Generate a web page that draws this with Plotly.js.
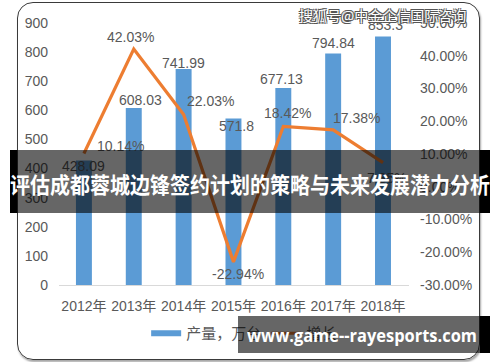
<!DOCTYPE html>
<html><head><meta charset="utf-8">
<script src="https://cdn.plot.ly/plotly-3.0.1.min.js"></script>
<style>
html,body{margin:0;padding:0;background:#fff;}
#wrap{position:relative;width:500px;height:362px;overflow:hidden;}
#chart{position:absolute;left:0;top:0;width:500px;height:362px;}
.ov{position:absolute;pointer-events:none;box-sizing:border-box;}
.txt{white-space:nowrap;color:#fff;font-weight:bold;transform-origin:0 0;}
</style></head><body>
<div id="wrap">
<div id="chart"></div>
<div class="ov" style="left:17px;top:2px;width:463px;height:358px;border:1.5px solid #3a3a3a;border-radius:16px;box-shadow:1px 2px 2px rgba(0,0,0,0.35);"></div>
<div class="ov" style="left:10px;top:150px;width:7px;height:63px;background:#000"></div>
<div class="ov" style="left:17px;top:150px;width:463px;height:63px;background:rgba(0,0,0,0.6)"></div>
<div class="ov" style="left:480px;top:150px;width:10px;height:63px;background:#000"></div>
<div class="ov txt" id="t1" data-w="480" style="left:10px;top:172px;font-family:'Noto Sans CJK SC';font-size:22px;line-height:22px;">评估成都蓉城边锋签约计划的策略与未来发展潜力分析</div>
<div class="ov" style="left:238px;top:316px;width:242px;height:37px;background:rgba(0,0,0,0.6)"></div>
<div class="ov" style="left:480px;top:316px;width:10px;height:37px;background:#000"></div>
<div class="ov txt" id="t2" data-w="230" style="left:247px;top:323px;font-family:'Open Sans';font-size:18px;line-height:24px;">www.game--rayesports.com</div>
</div>
<script>
// ---- data ----
const years = ['2012年','2013年','2014年','2015年','2016年','2017年','2018年'];
const output = [428.09, 608.03, 741.99, 571.8, 677.13, 794.84, 853.3];
const growth = [10.14, 42.03, 22.03, -22.94, 18.42, 17.38, 7.35];
const outputName = '产量，万台';
const growthName = '增长';
const leftTicks = [0, 100, 200, 300, 400, 500, 600, 700, 800, 900];
const rightTicks = [-30, -20, -10, 0, 10, 20, 30, 40, 50];
const watermark = '搜狐号@中金企信国际咨询';

// ---- style ----
const BLUE = '#5b9bd5', ORANGE = '#ed7d31', GRAY = '#595959';
const FONT = 'Liberation Sans, Noto Sans CJK SC, sans-serif';
const barLabelShift = [[0,-6],[7,8],[0,6],[3,-7],[-2,9],[0,11],[2,12]];
const growthLabelShift = [[37,8],[-3,12],[27,14],[5,-12],[4,13],[23,12],[4,-15]];

const traces = [
  {type:'bar', x: years, y: output, marker:{color: BLUE}, width:0.32, showlegend:false, hoverinfo:'none'},
  {type:'scatter', mode:'lines', x: years, y: growth, yaxis:'y2', line:{color: ORANGE, width:3.2}, showlegend:false, hoverinfo:'none'},
  {type:'scatter', mode:'lines', x:[null], y:[null], name: outputName, line:{color: BLUE, width:6}},
  {type:'scatter', mode:'lines', x:[null], y:[null], name: growthName, yaxis:'y2', line:{color: ORANGE, width:3}}
];

const ann = [];
years.forEach((yr, i) => {
  ann.push({x: yr, y: output[i], xref:'x', yref:'y', text: String(output[i]), showarrow:false,
    xshift: barLabelShift[i][0], yshift: barLabelShift[i][1], font:{size:14, color:GRAY, family:FONT}});
  ann.push({x: yr, y: growth[i], xref:'x', yref:'y2', text: growth[i].toFixed(2) + '%', showarrow:false,
    xshift: growthLabelShift[i][0], yshift: growthLabelShift[i][1], font:{size:14, color:GRAY, family:FONT}});
});
ann.push({x:0.923, y:1.03, xref:'paper', yref:'paper', xanchor:'center', yanchor:'middle', text: watermark, showarrow:false,
  font:{size:14, color:'#ffffff', family:'Noto Sans CJK SC', shadow:'-1px -1px 0 #555, 1px -1px 0 #555, -1px 1px 0 #555, 1px 1px 0 #555'}});

const layout = {
  width:500, height:362,
  margin:{l:59, r:91, t:23, b:74, pad:0},
  paper_bgcolor:'#ffffff', plot_bgcolor:'#ffffff',
  font:{family: FONT, size:14, color: GRAY},
  showlegend:true,
  legend:{orientation:'h', x:0.249, xanchor:'left', y:-0.185, yanchor:'middle', font:{size:15, color:GRAY}, bgcolor:'rgba(0,0,0,0)'},
  xaxis:{type:'category', showline:true, linecolor:'#d9d9d9', linewidth:1, ticks:'', showgrid:false,
    tickfont:{size:14, color:GRAY}, ticklabelstandoff:8, automargin:false},
  yaxis:{range:[0, 900], tickvals: leftTicks, showgrid:false, zeroline:false, showline:false, ticks:'',
    tickfont:{size:14, color:GRAY}, ticklabelstandoff:10, automargin:false},
  yaxis2:{range:[-30, 50], tickvals: rightTicks, ticktext: rightTicks.map(v => v.toFixed(2) + '%'), overlaying:'y', side:'right',
    showgrid:false, zeroline:false, showline:false, ticks:'', tickfont:{size:14, color:GRAY}, ticklabelstandoff:10, automargin:false},
  annotations: ann
};

Plotly.newPlot('chart', traces, layout, {displayModeBar:false, staticPlot:true}).then(() => {
  document.querySelectorAll('.txt').forEach(el => {
    const w = el.getBoundingClientRect().width;
    const target = +el.dataset.w;
    el.style.transform = 'scaleX(' + (target / w) + ')';
  });
});
</script>
</body></html>
